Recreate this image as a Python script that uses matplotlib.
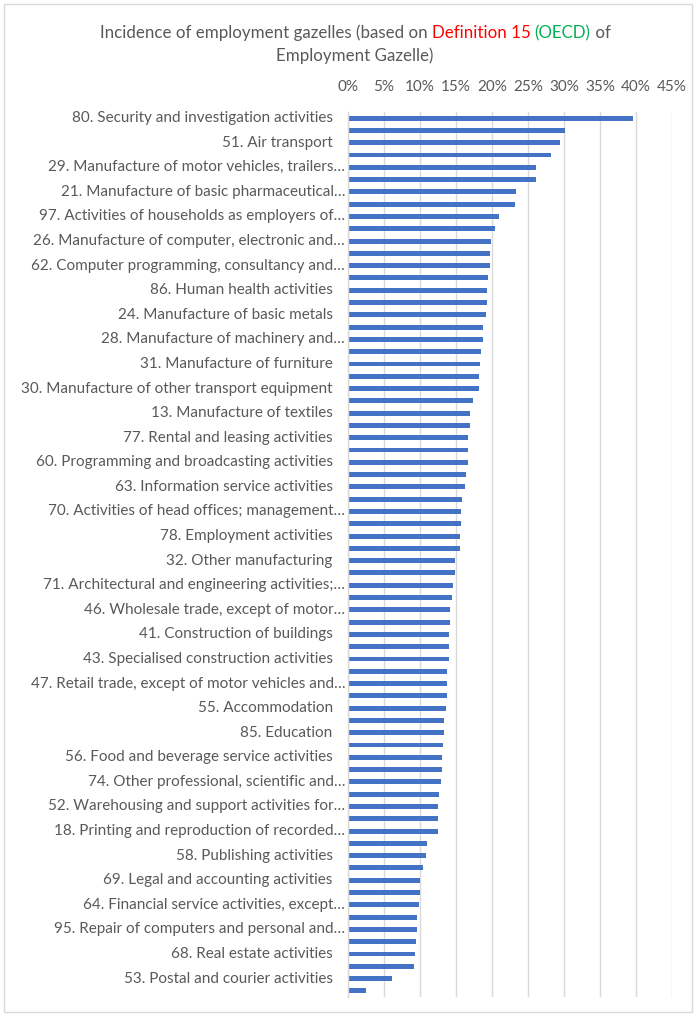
import matplotlib
matplotlib.use("Agg")
import matplotlib.pyplot as plt
import matplotlib.transforms as mtransforms
from matplotlib.patches import Rectangle
from matplotlib.ticker import PercentFormatter

# Labels shown on the chart (every other category carries a label in the original)
shown_labels = [
    "80. Security and investigation activities",
    "51. Air transport",
    "29. Manufacture of motor vehicles, trailers…",
    "21. Manufacture of basic pharmaceutical…",
    "97. Activities of households as employers of…",
    "26. Manufacture of computer, electronic and…",
    "62. Computer programming, consultancy and…",
    "86. Human health activities",
    "24. Manufacture of basic metals",
    "28. Manufacture of machinery and…",
    "31. Manufacture of furniture",
    "30. Manufacture of other transport equipment",
    "13. Manufacture of textiles",
    "77. Rental and leasing activities",
    "60. Programming and broadcasting activities",
    "63. Information service activities",
    "70. Activities of head offices; management…",
    "78. Employment activities",
    "32. Other manufacturing",
    "71. Architectural and engineering activities;…",
    "46. Wholesale trade, except of motor…",
    "41. Construction of buildings",
    "43. Specialised construction activities",
    "47. Retail trade, except of motor vehicles and…",
    "55. Accommodation",
    "85. Education",
    "56. Food and beverage service activities",
    "74. Other professional, scientific and…",
    "52. Warehousing and support activities for…",
    "18. Printing and reproduction of recorded…",
    "58. Publishing activities",
    "69. Legal and accounting activities",
    "64. Financial service activities, except…",
    "95. Repair of computers and personal and…",
    "68. Real estate activities",
    "53. Postal and courier activities",
]

# Incidence (%) of every sector, top to bottom
incidence = [
    39.6, 30.2, 29.4, 28.2, 26.1, 26.1, 23.4, 23.2, 21.0, 20.4,
    19.9, 19.7, 19.7, 19.5, 19.3, 19.3, 19.1, 18.7, 18.7, 18.5,
    18.3, 18.15, 18.15, 17.4, 17.0, 17.0, 16.7, 16.7, 16.7, 16.4,
    16.25, 15.9, 15.7, 15.7, 15.5, 15.5, 14.8, 14.8, 14.6, 14.4,
    14.2, 14.2, 14.0, 14.0, 14.0, 13.8, 13.8, 13.8, 13.6, 13.4,
    13.4, 13.25, 13.05, 13.05, 12.9, 12.7, 12.5, 12.5, 12.5, 11.0,
    10.8, 10.4, 10.0, 10.0, 9.9, 9.6, 9.6, 9.45, 9.3, 9.1,
    6.1, 2.5,
]

x_ticks = [0, 5, 10, 15, 20, 25, 30, 35, 40, 45]

font = "Lato"
grey_text = "#595959"
bar_color = "#4472C4"
grid_color = "#D9D9D9"

W, H = 696, 1016
fig = plt.figure(figsize=(W / 100, H / 100), dpi=100)
fig.patch.set_facecolor("white")

# outer chart frame
fig.patches.append(Rectangle((4 / W, 4 / H), (692 - 4) / W, (1012 - 4) / H,
                             transform=fig.transFigure, fill=False,
                             edgecolor=grid_color, linewidth=1))

left, right, top, bottom = 348, 672, 112, 997
ax = fig.add_axes([left / W, 1 - bottom / H, (right - left) / W, (bottom - top) / H])

pos = list(range(len(incidence)))
ax.barh(pos, incidence, height=0.4, color=bar_color, zorder=3)

ax.set_xlim(0, 45)
ax.set_ylim(len(incidence) - 0.5, -0.5)
ax.set_xticks(x_ticks)
ax.xaxis.set_major_formatter(PercentFormatter(decimals=0))
ax.xaxis.tick_top()
ax.tick_params(axis="x", length=0, pad=13, labelsize=11, labelcolor=grey_text)
for t in ax.get_xticklabels():
    t.set_fontfamily(font)
ax.grid(axis="x", color=grid_color, linewidth=1, zorder=0)
ax.set_yticks([])

for s in ["top", "right", "bottom"]:
    ax.spines[s].set_visible(False)
ax.spines["left"].set_color(grid_color)
ax.spines["left"].set_linewidth(1)
ax.spines["left"].set_zorder(4)

# category labels, every other bar
trans = ax.get_yaxis_transform()
for i, lab in enumerate(shown_labels):
    dx = 2 if lab.endswith("…") else 11
    off = mtransforms.ScaledTranslation(-dx / 72, 0, fig.dpi_scale_trans)
    ax.text(0, pos[2 * i], lab, transform=trans + off, ha="right", va="center",
            fontsize=11, color=grey_text, fontfamily=font)

# title with coloured parts
title_lines = [
    [("Incidence of employment gazelles (based on ", grey_text),
     ("Definition 15", "#FF0000"), (" ", grey_text),
     ("(OECD)", "#00B050"), (" of", grey_text)],
    [("Employment Gazelle)", grey_text)],
]
title_y = [33, 56]
title_cx = 355
fig.canvas.draw()
renderer = fig.canvas.get_renderer()
for line, yy in zip(title_lines, title_y):
    texts = []
    widths = []
    for part, col in line:
        t = fig.text(0, 1 - yy / H, part, color=col, fontsize=12.2, fontfamily=font,
                     va="center", ha="left")
        w = t.get_window_extent(renderer).width
        texts.append(t)
        widths.append(w)
    x0 = title_cx - sum(widths) / 2
    for t, w in zip(texts, widths):
        t.set_x(x0 / W)
        x0 += w

fig.savefig("out.png", dpi=100, facecolor="white")
